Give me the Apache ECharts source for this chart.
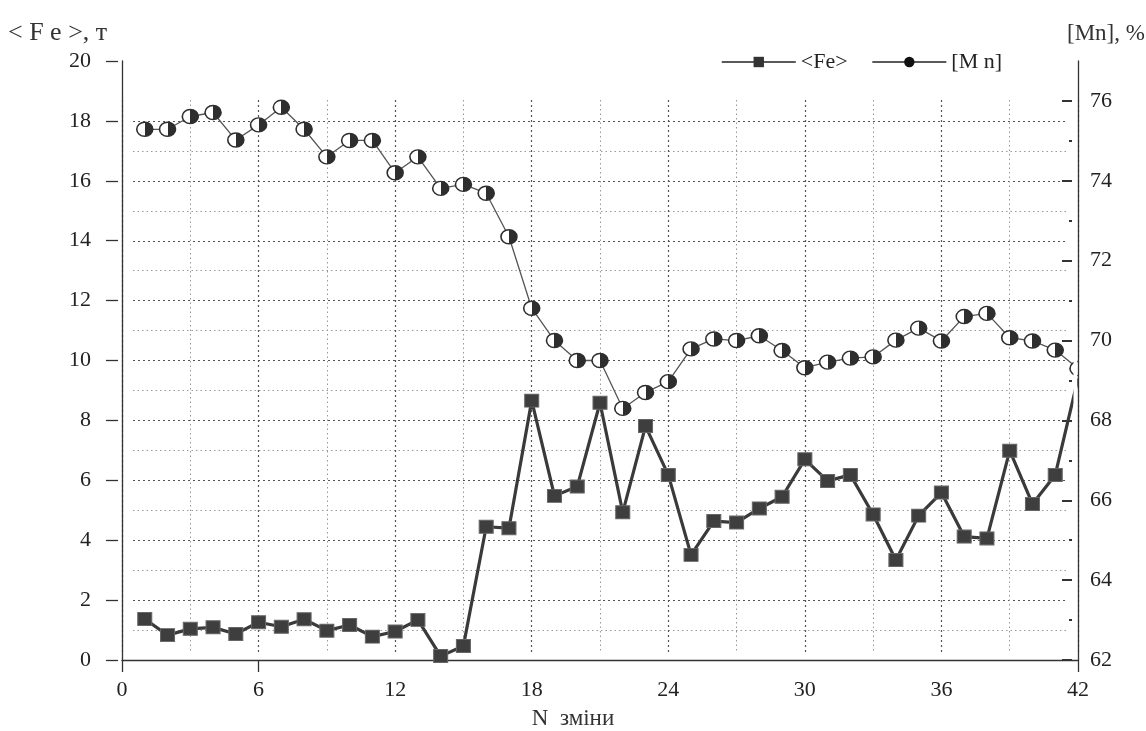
<!DOCTYPE html>
<html>
<head>
<meta charset="utf-8">
<script src="https://cdn.jsdelivr.net/npm/echarts@6/dist/echarts.min.js"></script>
<style>
html,body{margin:0;padding:0;background:#fff;}
#chart{width:1146px;height:731px;}
</style>
</head>
<body>
<div id="chart"></div>
<script>
// ---- data ----
const shifts = [1,2,3,4,5,6,7,8,9,10,11,12,13,14,15,16,17,18,19,20,21,22,23,24,25,26,27,28,29,30,31,32,33,34,35,36,37,38,39,40,41,42];
const feValues = [1.37,0.83,1.04,1.09,0.87,1.26,1.11,1.36,0.98,1.17,0.78,0.95,1.34,0.13,0.47,4.45,4.40,8.66,5.48,5.79,8.59,4.93,7.81,6.18,3.51,4.64,4.59,5.06,5.45,6.70,5.98,6.18,4.86,3.34,4.82,5.59,4.12,4.06,6.99,5.21,6.18,9.4];
const mnValues = [75.29,75.29,75.61,75.71,75.02,75.40,75.84,75.29,74.60,75.01,75.01,74.20,74.60,73.81,73.91,73.69,72.60,70.81,70.00,69.50,69.50,68.30,68.70,68.97,69.79,70.04,70.00,70.12,69.75,69.32,69.46,69.56,69.59,70.01,70.31,69.99,70.60,70.68,70.07,69.99,69.76,69.30];
const xTickLabels = [0,6,12,18,24,30,36,42];
const leftTickLabels = [0,2,4,6,8,10,12,14,16,18,20];
const rightTickLabels = [62,64,66,68,70,72,74,76];
const rightMinorTicks = [63,65,67,69,71,73,75];

const FONT = 'Liberation Serif';
const TXT = '#222';

const feData = shifts.map((x, i) => [x, feValues[i]]);
const mnData = shifts.map((x, i) => [x, mnValues[i]]);
const lastIdx = shifts.length - 1;

const halfFill = new echarts.graphic.LinearGradient(0, 0, 1, 0, [
  {offset: 0, color: '#ffffff'}, {offset: 0.5, color: '#ffffff'},
  {offset: 0.5, color: '#2e2e2e'}, {offset: 1, color: '#2e2e2e'}
]);

const chart = echarts.init(document.getElementById('chart'), null, {renderer: 'canvas'});

const option = {
  backgroundColor: '#ffffff',
  animation: false,
  textStyle: {fontFamily: FONT},
  grid: [
    {left: 122, right: 68, top: 61, bottom: 71},   // main
    {left: 133, right: 78, top: 121, bottom: 71},  // horizontal dotted grid
    {left: 122, right: 68, top: 100, bottom: 78}   // vertical dotted grid
  ],
  legend: {
    left: 716, top: 46,
    itemWidth: 74, itemHeight: 13, itemGap: 24,
    textStyle: {fontFamily: FONT, fontSize: 22, color: TXT},
    data: [
      {name: '<Fe>', lineStyle: {width: 1.5, color: '#222'}, itemStyle: {color: '#333', borderWidth: 0}},
      {name: '[M n]', lineStyle: {width: 1.5, color: '#222'}, itemStyle: {color: '#111', borderWidth: 0}}
    ]
  },
  graphic: [
    {type: 'text', left: 8, top: 20, style: {text: '< F e >, т', font: '26px "Liberation Serif"', fill: '#333'}},
    {type: 'text', left: 1067, top: 22, style: {text: '[Mn], %', font: '23px "Liberation Serif"', fill: '#333'}},
    {type: 'text', left: 'center', top: 707, style: {text: 'N  зміни', font: '23px "Liberation Serif"', fill: '#333'}},
    // the reference picture is cropped just left of the right axis
    {type: 'rect', z: 100, zlevel: 0, shape: {x: 1073.5, y: 62, width: 3.8, height: 593}, style: {fill: '#ffffff'}},
    {type: 'rect', z: 100, zlevel: 0, shape: {x: 1079, y: 360, width: 11, height: 26}, style: {fill: '#ffffff'}}
  ],
  xAxis: [
    {
      type: 'value', gridIndex: 0, min: 0, max: 42, interval: 6,
      axisLine: {show: true, lineStyle: {color: '#333', width: 1.3}},
      axisTick: {show: true, length: 12, customValues: [0, 6, 42], lineStyle: {color: '#333', width: 1.3}},
      axisLabel: {fontFamily: FONT, fontSize: 22, color: TXT, margin: 19, customValues: xTickLabels},
      splitLine: {show: false}
    },
    {type: 'value', gridIndex: 1, min: 0, max: 1, show: false},
    {
      type: 'value', gridIndex: 2, min: 0, max: 42, interval: 6,
      axisLine: {show: false}, axisTick: {show: false}, axisLabel: {show: false},
      splitLine: {show: true, lineStyle: {type: [2, 3], color: '#555', width: 1.2}},
      minorTick: {show: false, splitNumber: 2},
      minorSplitLine: {show: true, lineStyle: {type: [1.5, 3], color: '#999', width: 1}}
    }
  ],
  yAxis: [
    {
      type: 'value', gridIndex: 0, position: 'left', min: 0, max: 20, interval: 2,
      axisLine: {show: true, lineStyle: {color: '#333', width: 1.3}},
      axisTick: {show: false},
      axisLabel: {fontFamily: FONT, fontSize: 22, color: TXT, margin: 31, customValues: leftTickLabels},
      splitLine: {show: false}
    },
    {
      type: 'value', gridIndex: 0, position: 'left', offset: 4, min: 0, max: 20, interval: 2,
      axisLine: {show: false},
      axisTick: {show: true, length: 12, lineStyle: {color: '#333', width: 1.3}},
      axisLabel: {show: false}, splitLine: {show: false}
    },
    {
      type: 'value', gridIndex: 0, position: 'right', min: 62, max: 77, interval: 2,
      axisLine: {show: true, lineStyle: {color: '#333', width: 1.3}},
      axisTick: {show: false},
      axisLabel: {fontFamily: FONT, fontSize: 22, color: TXT, margin: 12, customValues: rightTickLabels},
      splitLine: {show: false},
      z: 101
    },
    {
      type: 'value', gridIndex: 0, position: 'right', offset: -6, min: 62, max: 77, interval: 2,
      axisLine: {show: false},
      axisTick: {show: true, inside: true, length: 10, customValues: rightTickLabels, lineStyle: {color: '#333', width: 2}},
      axisLabel: {show: false}, splitLine: {show: false}
    },
    {
      type: 'value', gridIndex: 0, position: 'right', offset: -6, min: 62, max: 77, interval: 2,
      axisLine: {show: false},
      axisTick: {show: true, inside: true, length: 3, customValues: rightMinorTicks, lineStyle: {color: '#333', width: 2}},
      axisLabel: {show: false}, splitLine: {show: false}
    },
    {
      type: 'value', gridIndex: 1, min: 0, max: 18, interval: 2,
      axisLine: {show: false}, axisTick: {show: false}, axisLabel: {show: false},
      splitLine: {show: true, lineStyle: {type: [2, 3], color: '#555', width: 1.2}},
      minorTick: {show: false, splitNumber: 2},
      minorSplitLine: {show: true, lineStyle: {type: [1.5, 3], color: '#999', width: 1}}
    },
    {type: 'value', gridIndex: 2, min: 0, max: 1, show: false}
  ],
  series: [
    {
      name: '[M n]', type: 'line', xAxisIndex: 0, yAxisIndex: 2,
      data: mnData,
      symbol: 'circle', symbolSize: [16, 14],
      lineStyle: {color: '#555', width: 1.3},
      itemStyle: {color: halfFill, borderColor: '#2e2e2e', borderWidth: 1.5},
      z: 3
    },
    {
      name: '<Fe>', type: 'line', xAxisIndex: 0, yAxisIndex: 0,
      data: feData,
      symbol: 'rect',
      symbolSize: (v, p) => (p.dataIndex === lastIdx ? 0 : [14, 13]),
      lineStyle: {color: '#3a3a3a', width: 3.2},
      itemStyle: {color: '#3e3e3e', borderColor: '#666', borderWidth: 1},
      z: 4
    }
  ]
};
chart.setOption(option);
</script>
</body>
</html>
